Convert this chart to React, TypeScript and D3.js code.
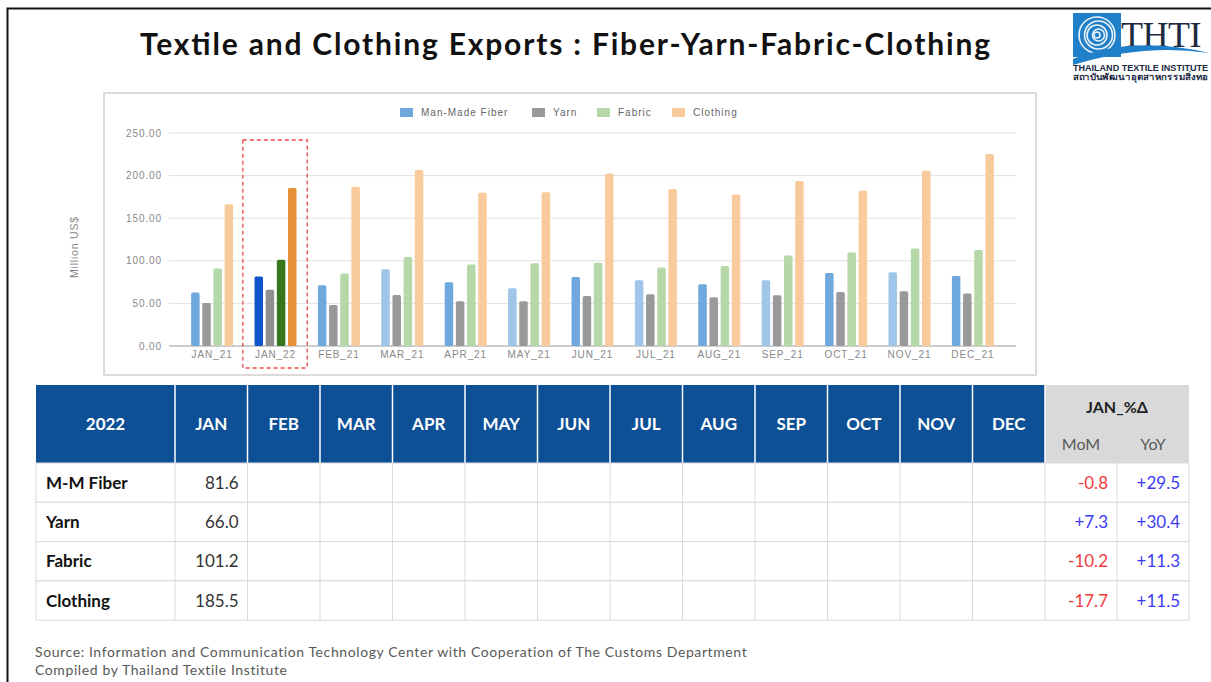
import * as d3 from 'd3'

// chart data (million US$)
const categories = ['JAN_21', 'JAN_22', 'FEB_21', 'MAR_21', 'APR_21', 'MAY_21', 'JUN_21', 'JUL_21', 'AUG_21', 'SEP_21', 'OCT_21', 'NOV_21', 'DEC_21']
const fiber = [62.9, 81.6, 71.3, 90.1, 74.8, 67.8, 81.1, 77.2, 72.5, 77.2, 85.8, 86.6, 82.3]
const yarn = [50.6, 66.0, 48.2, 60.0, 52.5, 52.5, 58.8, 60.7, 57.2, 59.6, 63.5, 64.3, 61.5]
const fabric = [90.9, 101.2, 85.0, 104.6, 95.6, 97.2, 97.6, 92.1, 94.0, 106.2, 109.7, 114.4, 112.7]
const clothing = [166.4, 185.5, 186.9, 206.5, 179.9, 180.6, 202.6, 184.2, 177.9, 193.6, 182.2, 205.7, 225.4]
const seriesNames = ['Man-Made Fiber', 'Yarn', 'Fabric', 'Clothing']
const yTicks = [0, 50, 100, 150, 200, 250]
const highlight = 'JAN_22'
// the fiber bars alternate between two blues in the original
const fiberLight = [false, false, false, true, false, true, false, true, false, true, false, true, false]

// table data
const tableYear = '2022'
const tableMonths = ['JAN', 'FEB', 'MAR', 'APR', 'MAY', 'JUN', 'JUL', 'AUG', 'SEP', 'OCT', 'NOV', 'DEC']
const tableRows = ['M-M Fiber', 'Yarn', 'Fabric', 'Clothing']
const janValues = ['81.6', '66.0', '101.2', '185.5']
const momValues = ['-0.8', '+7.3', '-10.2', '-17.7']
const yoyValues = ['+29.5', '+30.4', '+11.3', '+11.5']

const W = 1211
const H = 682
const chartFont = '"Liberation Sans", Arial, sans-serif'
const slideFont = 'Lato, "Open Sans", sans-serif'

const baseColors = ['#6fa8dc', '#999999', '#b6d7a8', '#f9cb9c']
const hiColors = ['#1155cc', '#8e8e8e', '#38761d', '#e69138']

function BarChart() {
  const plot = { left: 169, right: 1016, top: 133, bottom: 346 }
  const x = d3.scaleBand<string>().domain(categories).range([plot.left, plot.right]).paddingInner(0).paddingOuter(0.18)
  const sub = d3.scaleBand<number>().domain([0, 1, 2, 3]).range([x.bandwidth() / 2 - 21, x.bandwidth() / 2 + 21]).paddingInner(0.24)
  const y = d3.scaleLinear().domain([0, 250]).range([plot.bottom, plot.top])
  const series = [fiber, yarn, fabric, clothing]

  const legendX = [400, 532, 597, 672]
  const hx = x(highlight)!

  return (
    <g>
      <rect x={104} y={93} width={932} height={282} fill="#fff" stroke="#cfcfcf" strokeWidth={1.5} />
      {/* legend */}
      {seriesNames.map((name, i) => (
        <g key={name} transform={`translate(${legendX[i]},108)`}>
          <rect width={13} height={9} fill={baseColors[i]} />
          <text x={21} y={8} fontSize={10} fill="#666" fontFamily={chartFont} letterSpacing={1}>{name}</text>
        </g>
      ))}
      {/* grid */}
      {yTicks.map(t => (
        <g key={t}>
          <line x1={plot.left} x2={plot.right} y1={y(t)} y2={y(t)} stroke={t === 0 ? '#999' : '#e2e2e2'} strokeWidth={t === 0 ? 1.2 : 1} />
          <text x={162} y={y(t) + 3.5} textAnchor="end" fontSize={10} fill="#888" fontFamily={chartFont} letterSpacing={0.9}>{t.toFixed(2)}</text>
        </g>
      ))}
      <text transform="translate(78,247) rotate(-90)" textAnchor="middle" fontSize={10.5} fill="#888" fontFamily={chartFont} letterSpacing={0.8}>Million US$</text>
      {/* bars */}
      {categories.map((c, ci) => (
        <g key={c} transform={`translate(${x(c)},0)`}>
          {series.map((s, si) => {
            let fill = c === highlight ? hiColors[si] : baseColors[si]
            if (si === 0 && c !== highlight && fiberLight[ci]) fill = '#9fc5e8'
            return (
              <rect key={si} x={sub(si)} y={y(s[ci])} width={sub.bandwidth()} height={y(0) - y(s[ci])} rx={1.5} fill={fill} />
            )
          })}
          <text x={x.bandwidth() / 2} y={358} textAnchor="middle" fontSize={10} fill="#888" fontFamily={chartFont} letterSpacing={0.9}>{c}</text>
        </g>
      ))}
      {/* highlight frame */}
      <rect x={hx - 1} y={140} width={x.step() + 1} height={228} fill="none" stroke="#f04848" strokeWidth={1.3} strokeDasharray="4 3" />
    </g>
  )
}

function DataTable() {
  const top = 385
  const headH = 78
  const rowH = 39.3
  const firstW = 139
  const left = 36
  const monthX = d3.scaleBand<string>().domain(tableMonths).range([left + firstW, 1045])
  const momX = 1045
  const yoyX = 1117
  const right = 1189
  const bodyTop = top + headH
  const blue = '#0e5096'
  const fs = 17

  return (
    <g fontFamily={slideFont}>
      {/* header */}
      <rect x={left} y={top} width={monthX.range()[1] - left} height={headH} fill={blue} />
      <rect x={momX} y={top} width={right - momX} height={headH} fill="#d9d9d9" />
      {[left + firstW, ...tableMonths.slice(1).map(m => monthX(m)!), momX].map((xx, i) => (
        <line key={i} x1={xx} x2={xx} y1={top} y2={bodyTop} stroke="#fff" strokeWidth={1.5} />
      ))}
      <text x={left + firstW / 2} y={top + headH / 2 + 6} textAnchor="middle" fill="#fff" fontWeight={700} fontSize={fs}>{tableYear}</text>
      {tableMonths.map(m => (
        <text key={m} x={monthX(m)! + monthX.bandwidth() / 2} y={top + headH / 2 + 6} textAnchor="middle" fill="#fff" fontWeight={700} fontSize={fs}>{m}</text>
      ))}
      <text x={(momX + right) / 2} y={top + 28} textAnchor="middle" fill="#222" fontWeight={700} fontSize={16}>JAN_%Δ</text>
      <text x={(momX + yoyX) / 2} y={top + 65} textAnchor="middle" fill="#595959" fontSize={16}>MoM</text>
      <text x={(yoyX + right) / 2} y={top + 65} textAnchor="middle" fill="#595959" fontSize={16}>YoY</text>
      {/* body */}
      {tableRows.map((r, i) => {
        const ry = bodyTop + i * rowH
        return (
          <g key={r}>
            <rect x={left} y={ry} width={right - left} height={rowH} fill="#fff" stroke="#dadada" strokeWidth={1} />
            <text x={left + 10} y={ry + rowH / 2 + 6} fill="#111" fontWeight={700} fontSize={fs}>{r}</text>
            <text x={left + firstW + monthX.bandwidth() - 9} y={ry + rowH / 2 + 6} textAnchor="end" fill="#333" fontSize={fs}>{janValues[i]}</text>
            <text x={yoyX - 9} y={ry + rowH / 2 + 6} textAnchor="end" fill={momValues[i].startsWith('-') ? '#f23b3b' : '#3b3bf5'} fontSize={fs}>{momValues[i]}</text>
            <text x={right - 9} y={ry + rowH / 2 + 6} textAnchor="end" fill={yoyValues[i].startsWith('-') ? '#f23b3b' : '#3b3bf5'} fontSize={fs}>{yoyValues[i]}</text>
          </g>
        )
      })}
      {[left + firstW, ...tableMonths.map(m => monthX(m)! + monthX.bandwidth()), yoyX].map((xx, i) => (
        <line key={i} x1={xx} x2={xx} y1={bodyTop} y2={bodyTop + rowH * tableRows.length} stroke="#dadada" strokeWidth={1} />
      ))}
    </g>
  )
}

function Logo() {
  return (
    <g transform="translate(1073,13)">
      <rect x={0} y={0} width={48} height={44} fill="#1f7fc8" />
      {[18, 14, 10, 6, 3].map((r, i) => (
        <circle key={r} cx={24 + (i % 2) * 1.5} cy={22} r={r} fill="none" stroke="#fff" strokeWidth={1.6} opacity={0.9} />
      ))}
      <text x={48} y={34} fontFamily='"Liberation Serif", "DejaVu Serif", serif' fontSize={36} fill="#1c2a44" letterSpacing={-0.5}>THTI</text>
      <path d="M0,46 Q60,22 136,40 Q70,30 0,52 Z" fill="#1f7fc8" />
      <text x={0} y={58} fontFamily={chartFont} fontWeight={700} fontSize={8.2} fill="#1c2a44" textLength={135} lengthAdjust="spacingAndGlyphs">THAILAND TEXTILE INSTITUTE</text>
      <text x={0} y={67} fontFamily='"Noto Sans", sans-serif' fontWeight={700} fontSize={8.5} fill="#1c2a44" textLength={135} lengthAdjust="spacingAndGlyphs">สถาบันพัฒนาอุตสาหกรรมสิ่งทอ</text>
    </g>
  )
}

export default function App() {
  return (
    <svg width={W} height={H} style={{ position: 'absolute', left: 0, top: 0, background: '#fff' }}>
      <rect width={W} height={H} fill="#fff" />
      <path d={`M7.5,${H} V8.5 H${W}`} fill="none" stroke="#111" strokeWidth={2} />
      <text x={565} y={55} textAnchor="middle" fontFamily={slideFont} fontWeight={700} fontSize={30} fill="#111" textLength={850} lengthAdjust="spacing">
        Textile and Clothing Exports : Fiber-Yarn-Fabric-Clothing
      </text>
      <Logo />
      <BarChart />
      <DataTable />
      <text x={35} y={657} fontFamily={slideFont} fontSize={14} fill="#595959" letterSpacing={0.6}>Source: Information and Communication Technology Center with Cooperation of The Customs Department</text>
      <text x={35} y={675} fontFamily={slideFont} fontSize={14} fill="#595959" letterSpacing={0.6}>Compiled by Thailand Textile Institute</text>
    </svg>
  )
}
